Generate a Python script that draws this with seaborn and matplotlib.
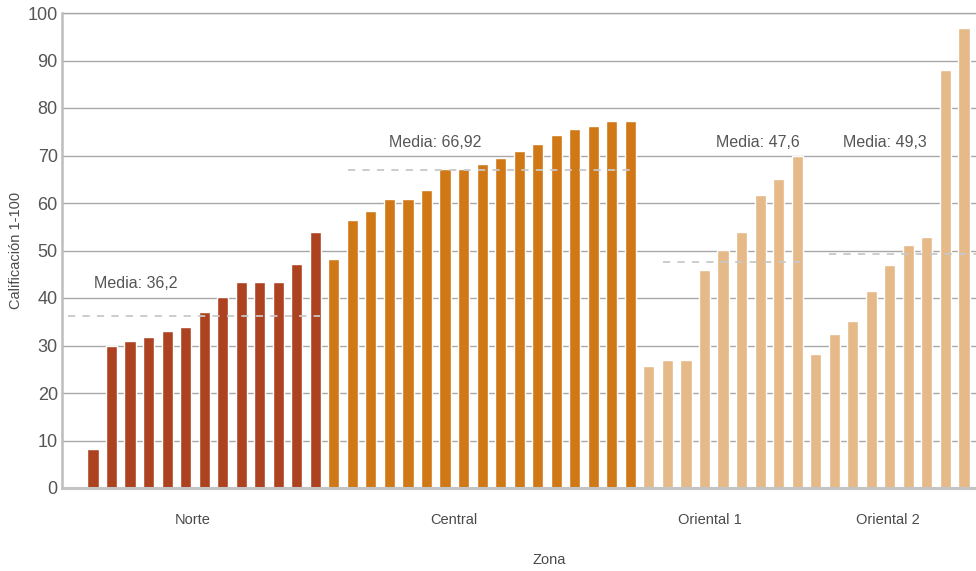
import matplotlib
matplotlib.use("Agg")
import matplotlib.pyplot as plt
import seaborn as sns
import pandas as pd

# Scores per municipality, sorted within each zone
norte = [8.2, 30.0, 31.0, 31.8, 33.0, 33.9, 37.0, 40.3, 43.4, 43.4, 43.4, 47.2, 53.9]
central = [48.2, 56.4, 58.3, 60.9, 60.9, 62.8, 67.2, 67.2, 68.2, 69.5, 71.0, 72.5,
           74.4, 75.6, 76.2, 77.3, 77.3]
oriental1 = [25.7, 26.9, 26.9, 45.9, 50.2, 53.9, 61.7, 65.1, 70.0]
oriental2 = [28.2, 32.4, 35.1, 41.5, 46.9, 51.2, 52.8, 88.1, 96.9]

zonas = ["Norte", "Central", "Oriental 1", "Oriental 2"]
medias = [36.2, 66.92, 47.6, 49.3]
media_labels = ["Media: 36,2", "Media: 66,92", "Media: 47,6", "Media: 49,3"]
colores = ["#AD4221", "#D07816", "#E5B988", "#E5B988"]

series = [norte, central, oriental1, oriental2]
rows = []
idx = 0
for zona, vals in zip(zonas, series):
    for v in vals:
        rows.append({"idx": idx, "score": v, "zona": zona})
        idx += 1
df = pd.DataFrame(rows)

sns.set_theme(style="white")
plt.rcParams["font.family"] = ["Liberation Sans", "DejaVu Sans"]

fig = plt.figure(figsize=(9.76, 5.71), dpi=100)
ax = fig.add_axes([62 / 976, 83 / 571, 1 - 62 / 976, 475 / 571])

sns.barplot(data=df, x="idx", y="score", hue="zona", palette=dict(zip(zonas, colores)),
            dodge=False, width=0.6, legend=False, ax=ax, saturation=1)

ax.set_ylim(0, 100)
ax.set_xlim(-1.67, 47.65)
ax.set_yticks(range(0, 101, 10))
ax.yaxis.grid(True, color="#A8A8A8", linewidth=1.0)
ax.set_axisbelow(True)
for sp in ["top", "right"]:
    ax.spines[sp].set_visible(False)
ax.spines["left"].set_color("#BDBDBD")
ax.spines["left"].set_linewidth(1.8)
ax.spines["bottom"].set_color("#C4C4C4")
ax.spines["bottom"].set_linewidth(2.2)
ax.axhline(100, color="#A8A8A8", linewidth=1.0, clip_on=False, zorder=0)

# Group labels under each zone
ax.set_xticks([5.4, 19.5, 33.3, 42.9])
ax.set_xticklabels(zonas, fontsize=10.5, color="#4A4A4A")
ax.tick_params(axis="x", length=0, pad=18)
ax.tick_params(axis="y", length=0, pad=3, labelsize=13, labelcolor="#555555")
ax.set_xlabel("")
ax.set_ylabel("")

fig.text(16 / 976, 1 - 250 / 571, "Calificación 1-100", rotation=90, fontsize=10.5,
         color="#4A4A4A", ha="center", va="center")
fig.text(549 / 976, 1 - 560 / 571, "Zona", fontsize=10.5, color="#4A4A4A",
         ha="center", va="center")

# Mean lines and labels
line_spans = [(-1.35, 12.25), (13.76, 29.3), (30.76, 38.26), (39.7, 47.65)]
text_pos = [(0.05, 43.0), (16.0, 72.7), (33.6, 72.7), (40.5, 72.7)]
for m, (x0, x1), (tx, ty), lab in zip(medias, line_spans, text_pos, media_labels):
    ax.plot([x0, x1], [m, m], linestyle=(0, (4, 4)), color="#C8C8C8", linewidth=1.3,
            zorder=3)
    ax.text(tx, ty, lab, fontsize=11.5, color="#555555", va="center", ha="left")

fig.savefig("out.png", dpi=100)
